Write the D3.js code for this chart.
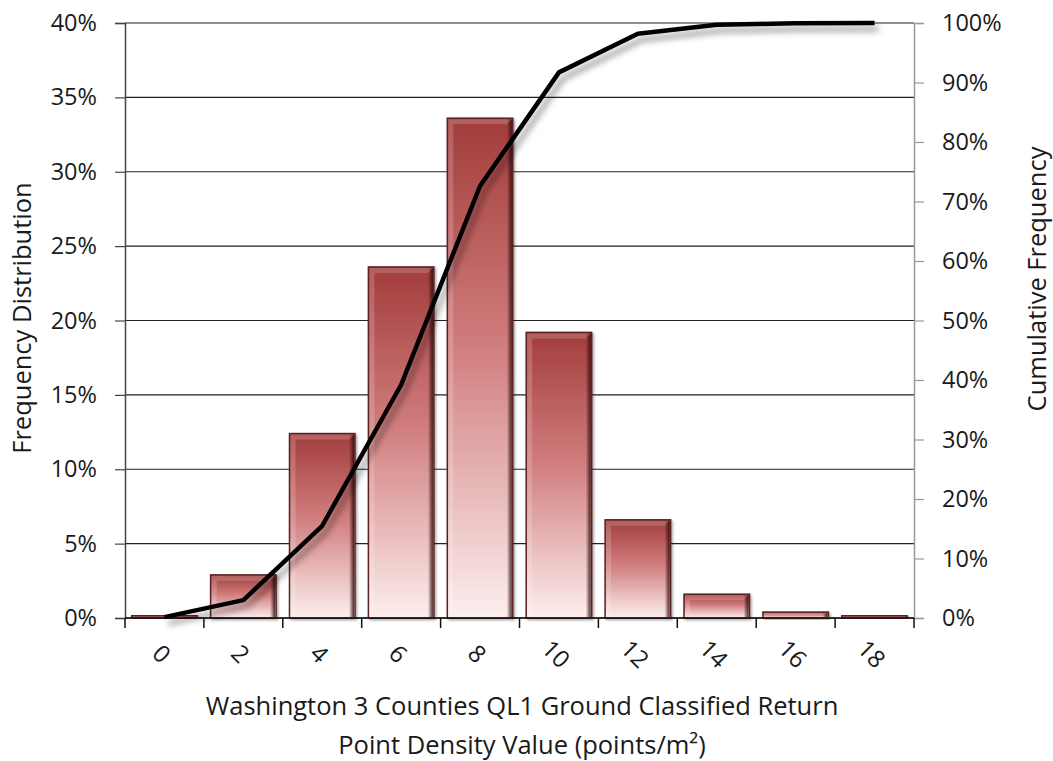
<!DOCTYPE html>
<html>
<head>
<meta charset="utf-8">
<script src="https://cdn.jsdelivr.net/npm/d3@7"></script>
<style>
  html, body { margin: 0; padding: 0; background: #fff; }
  svg { display: block; }
  text { font-family: "Open Sans", "Lato", sans-serif; fill: #1a1a1a; }
</style>
</head>
<body>
<svg id="chart" width="1053" height="761"></svg>
<script>
// Point density bins (points/m²)
const categories = ["0", "2", "4", "6", "8", "10", "12", "14", "16", "18"];
// Share of ground returns in each bin (%)
const frequency = [0.15, 2.9, 12.4, 23.6, 33.6, 19.2, 6.6, 1.6, 0.4, 0.15];
// Running total (%)
const cumulative = [0.15, 3.0, 15.5, 39.2, 72.6, 91.7, 98.2, 99.7, 99.95, 100];
const leftTicks = [0, 5, 10, 15, 20, 25, 30, 35, 40];
const rightTicks = [0, 10, 20, 30, 40, 50, 60, 70, 80, 90, 100];

const FONT = "'Open Sans', Lato, sans-serif";
const svg = d3.select("#chart");
const plot = { left: 125, right: 914, top: 23, bottom: 618 };

const x = d3.scaleBand().domain(categories)
  .range([plot.left, plot.right]).paddingInner(0.17).paddingOuter(0.085);
const yL = d3.scaleLinear().domain([0, 40]).range([plot.bottom, plot.top]);
const yR = d3.scaleLinear().domain([0, 100]).range([plot.bottom, plot.top]);

const defs = svg.append("defs");
const grad = defs.append("linearGradient").attr("id", "barFill")
  .attr("x1", 0).attr("y1", 0).attr("x2", 0).attr("y2", 1);
grad.append("stop").attr("offset", "0%").attr("stop-color", "#a23c3c");
grad.append("stop").attr("offset", "45%").attr("stop-color", "#d07c7c");
grad.append("stop").attr("offset", "100%").attr("stop-color", "#fdeeee");

const edgeR = defs.append("linearGradient").attr("id", "edgeRight")
  .attr("x1", 0).attr("y1", 0).attr("x2", 1).attr("y2", 0);
edgeR.append("stop").attr("offset", "0%").attr("stop-color", "#3a1010").attr("stop-opacity", 0);
edgeR.append("stop").attr("offset", "100%").attr("stop-color", "#2a0808").attr("stop-opacity", 0.85);

const shadow = defs.append("filter").attr("id", "lineShadow")
  .attr("x", "-10%").attr("y", "-10%").attr("width", "130%").attr("height", "130%");
shadow.append("feDropShadow").attr("dx", 4).attr("dy", 6)
  .attr("stdDeviation", 3).attr("flood-color", "#000").attr("flood-opacity", 0.4);

const barShadow = defs.append("filter").attr("id", "barShadow")
  .attr("x", "-10%").attr("y", "-10%").attr("width", "130%").attr("height", "130%");
barShadow.append("feDropShadow").attr("dx", 1.5).attr("dy", 1.5)
  .attr("stdDeviation", 1.2).attr("flood-color", "#000").attr("flood-opacity", 0.35);

// Horizontal gridlines at each left-axis tick
svg.append("g")
  .selectAll("line").data(leftTicks).join("line")
  .attr("x1", plot.left).attr("x2", plot.right)
  .attr("y1", d => yL(d)).attr("y2", d => yL(d))
  .attr("stroke", "#222").attr("stroke-width", 1.2);

// Bars
const bars = svg.append("g").selectAll("g").data(categories).join("g");
bars.append("rect")
  .attr("x", d => x(d))
  .attr("y", (d, i) => yL(frequency[i]))
  .attr("width", x.bandwidth())
  .attr("height", (d, i) => plot.bottom - yL(frequency[i]))
  .attr("fill", "url(#barFill)")
  .attr("stroke", "#5a2222").attr("stroke-width", 1.5)
  .attr("filter", "url(#barShadow)");
// Bevel: dark right edge
bars.append("rect")
  .attr("x", d => x(d) + x.bandwidth() - 6)
  .attr("y", (d, i) => yL(frequency[i]) + 1)
  .attr("width", 5)
  .attr("height", (d, i) => Math.max(0, plot.bottom - yL(frequency[i]) - 2))
  .attr("fill", "url(#edgeRight)");
// Bevel: light top band and left edge
bars.append("path")
  .attr("d", (d, i) => {
    const x0 = x(d) + 1, x1 = x(d) + x.bandwidth() - 1;
    const y0 = yL(frequency[i]) + 1, h = plot.bottom - yL(frequency[i]) - 2;
    const b = Math.min(5, h / 2);
    if (h <= 0) return "";
    return `M${x0},${y0}H${x1}L${x1 - b},${y0 + b}H${x0 + b}V${y0 + h - b}L${x0},${y0 + h}Z`;
  })
  .attr("fill", "#ffffff").attr("fill-opacity", 0.18);

// Left axis
const leftAxis = svg.append("g").attr("transform", `translate(${plot.left},0)`)
  .call(d3.axisLeft(yL).tickValues(leftTicks).tickSize(10).tickPadding(18)
    .tickFormat(d => d + "%"));
leftAxis.select(".domain").attr("stroke", "#444").attr("stroke-width", 1.5);
leftAxis.selectAll(".tick line").attr("stroke", "#444").attr("stroke-width", 1.2);
leftAxis.selectAll(".tick text").attr("font-size", 23.5).attr("fill", "#1a1a1a")
  .attr("font-family", FONT);

// Right axis
const rightAxis = svg.append("g").attr("transform", `translate(${plot.right},0)`)
  .call(d3.axisRight(yR).tickValues(rightTicks).tickSize(10).tickPadding(18)
    .tickFormat(d => d + "%"));
rightAxis.select(".domain").attr("stroke", "#999").attr("stroke-width", 1.5);
rightAxis.selectAll(".tick line").attr("stroke", "#999").attr("stroke-width", 1.2);
rightAxis.selectAll(".tick text").attr("font-size", 23.5).attr("fill", "#1a1a1a")
  .attr("font-family", FONT);

// Bottom axis: ticks at category boundaries
const bottom = svg.append("g").attr("transform", `translate(0,${plot.bottom})`);
bottom.append("line").attr("x1", plot.left).attr("x2", plot.right)
  .attr("stroke", "#111").attr("stroke-width", 1.5);
const bounds = categories.map(c => x(c) - x.step() * x.paddingInner() / 2)
  .concat([plot.right]);
bottom.selectAll("line.tick").data(bounds).join("line").attr("class", "tick")
  .attr("x1", d => d).attr("x2", d => d).attr("y1", 0).attr("y2", 10)
  .attr("stroke", "#111").attr("stroke-width", 1.5);
bottom.selectAll("text").data(categories).join("text")
  .attr("transform", d => `translate(${x(d) + x.bandwidth() / 2 - 3},${36}) rotate(45)`)
  .attr("text-anchor", "middle").attr("dy", "0.35em")
  .attr("font-size", 24)
  .text(d => d);

// Cumulative line
const line = d3.line()
  .x((d, i) => x(categories[i]) + x.bandwidth() / 2)
  .y(d => yR(d));
svg.append("path").datum(cumulative)
  .attr("d", line)
  .attr("fill", "none").attr("stroke", "#000").attr("stroke-width", 4.5)
  .attr("stroke-linejoin", "round")
  .attr("filter", "url(#lineShadow)");

// Axis titles
svg.append("text")
  .attr("transform", `translate(31,318) rotate(-90)`)
  .attr("text-anchor", "middle").attr("font-size", 25.5)
  .text("Frequency Distribution");
svg.append("text")
  .attr("transform", `translate(1046,279) rotate(-90)`)
  .attr("text-anchor", "middle").attr("font-size", 25.5)
  .text("Cumulative Frequency");
const xTitle = svg.append("text").attr("text-anchor", "middle").attr("font-size", 25.5);
xTitle.append("tspan").attr("x", 522).attr("y", 715)
  .text("Washington 3 Counties QL1 Ground Classified Return");
xTitle.append("tspan").attr("x", 522).attr("y", 754)
  .text("Point Density Value (points/m²)");
</script>
</body>
</html>
